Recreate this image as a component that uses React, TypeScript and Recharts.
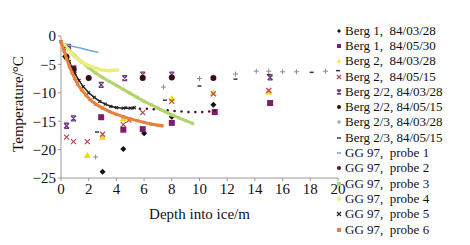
import React from 'react';
import { ScatterChart, Scatter, XAxis, YAxis } from 'recharts';

type P = { x: number; y: number };

// depth (m), temperature (°C)
const berg1Mar: P[] = [
  { x: 0.3, y: -3.6 }, { x: 3, y: -23.9 }, { x: 4.5, y: -19.9 }, { x: 6, y: -17.1 },
  { x: 8, y: -14.2 }, { x: 11, y: -12.1 },
];
const berg1May: P[] = [
  { x: 0.5, y: -1.9 }, { x: 0.9, y: -5.7 }, { x: 2.9, y: -14.3 }, { x: 4.5, y: -16.5 },
  { x: 5.9, y: -16.4 }, { x: 8, y: -15.3 }, { x: 11.1, y: -13.4 }, { x: 15.1, y: -11.8 },
];
const berg2Mar: P[] = [
  { x: 1.9, y: -21 }, { x: 3, y: -17.8 }, { x: 4.5, y: -14.5 }, { x: 8, y: -11 },
  { x: 11, y: -10 }, { x: 15, y: -9.8 },
];
const berg2May: P[] = [
  { x: 0.4, y: -17.8 }, { x: 0.9, y: -18.6 }, { x: 1.9, y: -18.6 }, { x: 3, y: -17.3 },
  { x: 4.5, y: -15.6 }, { x: 4.9, y: -14.8 }, { x: 5.9, y: -13.5 }, { x: 8, y: -11.5 },
  { x: 11, y: -10.2 }, { x: 15, y: -9.6 },
];
const berg22Mar: P[] = [
  { x: 0.4, y: -15.8 }, { x: 0.9, y: -14.5 }, { x: 2.9, y: -8.6 }, { x: 4.6, y: -7.4 },
  { x: 5.9, y: -6.8 }, { x: 8, y: -6.8 }, { x: 15.1, y: -7.3 },
];
const berg22May: P[] = [
  { x: 0.4, y: -3.7 }, { x: 0.9, y: -5.9 }, { x: 2, y: -7.4 }, { x: 5.9, y: -7.4 },
  { x: 8, y: -7.3 }, { x: 11, y: -7.4 },
];
const berg23Mar: P[] = [
  { x: 2.5, y: -21.3 }, { x: 7.4, y: -9 }, { x: 10, y: -7.5 }, { x: 12.6, y: -6.7 },
  { x: 14.1, y: -6.2 }, { x: 15, y: -6.2 }, { x: 16, y: -6.3 }, { x: 17, y: -6.3 },
  { x: 19.1, y: -6.2 },
];
const berg23May: P[] = [
  { x: 2.6, y: -16.9 }, { x: 7.5, y: -11.3 }, { x: 10, y: -8.8 }, { x: 12.6, y: -7.6 },
  { x: 15, y: -6.8 }, { x: 18.1, y: -6.4 }, { x: 20, y: -6.1 },
];
const probe1: P[] = [
  { x: 0.3, y: -1.4 }, { x: 0.8, y: -1.8 }, { x: 1.4, y: -2.1 }, { x: 2, y: -2.5 }, { x: 2.7, y: -2.9 },
];
const probe2: P[] = [
  { x: 4.7, y: -12.6 }, { x: 5.2, y: -12.7 }, { x: 5.7, y: -12.8 }, { x: 6.2, y: -12.8 },
  { x: 6.7, y: -12.9 }, { x: 7.2, y: -13 }, { x: 7.7, y: -13.1 }, { x: 8.2, y: -13.2 },
  { x: 8.7, y: -13.3 }, { x: 9.2, y: -13.4 }, { x: 9.7, y: -13.4 }, { x: 10.2, y: -13.4 },
  { x: 10.7, y: -13.3 }, { x: 11.1, y: -13.1 },
];
const probe3: P[] = [
  { x: 0, y: -1 }, { x: 0.5, y: -2.3 }, { x: 1, y: -3.5 }, { x: 1.5, y: -4.6 }, { x: 2, y: -5.6 },
  { x: 2.5, y: -6.5 }, { x: 3, y: -7.3 }, { x: 3.5, y: -8 }, { x: 4, y: -8.7 }, { x: 4.5, y: -9.4 },
  { x: 5, y: -10.1 }, { x: 5.5, y: -10.8 }, { x: 6, y: -11.5 }, { x: 6.5, y: -12.1 }, { x: 7, y: -12.7 },
  { x: 7.5, y: -13.3 }, { x: 8, y: -13.9 }, { x: 8.5, y: -14.4 }, { x: 9, y: -14.9 }, { x: 9.5, y: -15.4 },
];
const probe4: P[] = [
  { x: 0, y: -1 }, { x: 0.3, y: -1.8 }, { x: 0.6, y: -2.6 }, { x: 0.9, y: -3.5 }, { x: 1.3, y: -4.3 },
  { x: 1.7, y: -4.9 }, { x: 2.2, y: -5.4 }, { x: 2.8, y: -5.9 }, { x: 3.4, y: -6.1 }, { x: 4.2, y: -6 },
];
const probe5: P[] = [
  { x: 0, y: -1 }, { x: 0.2, y: -2.2 }, { x: 0.4, y: -3.4 }, { x: 0.6, y: -4.5 }, { x: 0.8, y: -5.6 },
  { x: 1, y: -6.6 }, { x: 1.3, y: -7.8 }, { x: 1.6, y: -8.9 }, { x: 2, y: -10 }, { x: 2.4, y: -10.8 },
  { x: 2.8, y: -11.5 }, { x: 3.2, y: -12 }, { x: 3.6, y: -12.4 }, { x: 4, y: -12.6 }, { x: 4.5, y: -12.7 },
  { x: 5, y: -12.7 }, { x: 5.3, y: -12.6 },
];
const probe6: P[] = [
  { x: 0, y: -1 }, { x: 0.2, y: -2.5 }, { x: 0.4, y: -4 }, { x: 0.6, y: -5.3 }, { x: 0.8, y: -6.5 },
  { x: 1, y: -7.5 }, { x: 1.2, y: -8.5 }, { x: 1.5, y: -9.5 }, { x: 1.8, y: -10.4 }, { x: 2.1, y: -11.2 },
  { x: 2.5, y: -12 }, { x: 3, y: -12.7 }, { x: 3.5, y: -13.3 }, { x: 4, y: -13.8 }, { x: 4.5, y: -14.2 },
  { x: 5, y: -14.6 }, { x: 5.5, y: -14.9 }, { x: 6, y: -15.2 }, { x: 6.5, y: -15.5 }, { x: 7, y: -15.7 },
  { x: 7.3, y: -15.8 },
];

const xTicks = [0, 2, 4, 6, 8, 10, 12, 14, 16, 18, 20];
const yTicks = [0, -5, -10, -15, -20, -25];

type Kind = 'diamond' | 'square' | 'triangle' | 'x' | 'asterisk' | 'circle' | 'plus' | 'dash' | 'dot' | 'none';

const mark = (kind: Kind, c: string, cx: number, cy: number, s: number) => {
  switch (kind) {
    case 'diamond':
      return <path d={`M${cx},${cy - s}L${cx + s},${cy}L${cx},${cy + s}L${cx - s},${cy}Z`} fill={c} />;
    case 'square':
      return <rect x={cx - s} y={cy - s} width={s * 2} height={s * 2} fill={c} />;
    case 'triangle':
      return <path d={`M${cx},${cy - s}L${cx + s},${cy + s * 0.8}L${cx - s},${cy + s * 0.8}Z`} fill={c} />;
    case 'x':
      return <path d={`M${cx - s},${cy - s}L${cx + s},${cy + s}M${cx + s},${cy - s}L${cx - s},${cy + s}`} stroke={c} strokeWidth={1.2} />;
    case 'asterisk':
      return (
        <path
          d={`M${cx - s},${cy - s}L${cx + s},${cy + s}M${cx + s},${cy - s}L${cx - s},${cy + s}M${cx - s},${cy - s}L${cx + s},${cy - s}M${cx - s},${cy + s}L${cx + s},${cy + s}`}
          stroke={c} strokeWidth={1.3} fill="none"
        />
      );
    case 'circle':
      return <circle cx={cx} cy={cy} r={s} fill={c} />;
    case 'plus':
      return <path d={`M${cx - s},${cy}L${cx + s},${cy}M${cx},${cy - s}L${cx},${cy + s}`} stroke={c} strokeWidth={1} />;
    case 'dash':
      return <path d={`M${cx - s},${cy}L${cx + s},${cy}`} stroke={c} strokeWidth={1.5} />;
    case 'dot':
      return <circle cx={cx} cy={cy} r={s} fill={c} />;
    default:
      return <g />;
  }
};

type Series = {
  name: string; data: P[]; color: string; kind: Kind; size: number;
  line?: number; legendKind?: Kind;
};

const SERIES: Series[] = [
  { name: 'Berg 1,  84/03/28', data: berg1Mar, color: '#111111', kind: 'diamond', size: 3 },
  { name: 'Berg 1,  84/05/30', data: berg1May, color: '#7b1f6a', kind: 'square', size: 3 },
  { name: 'Berg 2,  84/03/28', data: berg2Mar, color: '#efe000', kind: 'triangle', size: 3.5 },
  { name: 'Berg 2,  84/05/15', data: berg2May, color: '#c2405a', kind: 'x', size: 2.5 },
  { name: 'Berg 2/2, 84/03/28', data: berg22Mar, color: '#6a3a7c', kind: 'asterisk', size: 2.5 },
  { name: 'Berg 2/2, 84/05/15', data: berg22May, color: '#3a0a16', kind: 'circle', size: 3 },
  { name: 'Berg 2/3, 84/03/28', data: berg23Mar, color: '#8a8aa0', kind: 'plus', size: 2.5 },
  { name: 'Berg 2/3, 84/05/15', data: berg23May, color: '#353545', kind: 'dash', size: 2 },
  { name: 'GG 97,  probe 1', data: probe1, color: '#6fa8dc', kind: 'none', size: 2, line: 1.5, legendKind: 'dash' },
  { name: 'GG 97,  probe 2', data: probe2, color: '#5a1030', kind: 'dot', size: 1.3 },
  { name: 'GG 97,  probe 3', data: probe3, color: '#b4d36a', kind: 'square', size: 1.6, line: 3 },
  { name: 'GG 97,  probe 4', data: probe4, color: '#ecec80', kind: 'none', size: 2, line: 3.5, legendKind: 'dot' },
  { name: 'GG 97,  probe 5', data: probe5, color: '#222222', kind: 'x', size: 1.5, line: 1.5 },
  { name: 'GG 97,  probe 6', data: probe6, color: '#e8803c', kind: 'square', size: 1.6, line: 3 },
];

const FONT = '"Liberation Serif", "Times New Roman", serif';
const minus = (v: number) => (v < 0 ? `\u2212${Math.abs(v)}` : `${v}`);

const YLabel = () => (
  <text x={18} y={104} transform="rotate(-90 18 104)" textAnchor="middle" dominantBaseline="central"
    fontFamily={FONT} fontSize={15} fill="#111">
    Temperature/°C
  </text>
);

const LegendBox = () => (
  <div style={{ position: 'absolute', left: 334, top: 23, fontFamily: FONT, fontSize: 13, color: '#111' }}>
    {SERIES.map((s) => (
      <div key={s.name} style={{ height: 15.3, display: 'flex', alignItems: 'center', whiteSpace: 'pre' }}>
        <svg width={10} height={10} style={{ marginRight: 1 }}>
          {mark(s.legendKind ?? s.kind, s.color, 5, 5, 2)}
        </svg>
        {s.name}
      </div>
    ))}
  </div>
);

export default function App() {
  return (
    <div style={{ position: 'fixed', left: 0, top: 0, width: 470, height: 245, background: '#fff' }}>
      <ScatterChart width={470} height={245} margin={{ top: 36, right: 132, bottom: 22, left: 0 }}>
        <XAxis
          type="number" dataKey="x" domain={[0, 20]} ticks={xTicks} interval={0}
          stroke="#999" tickSize={3} height={45}
          tick={{ fontFamily: FONT, fontSize: 15, fill: '#111' }}
          label={{ value: 'Depth into ice/m', position: 'insideBottom', offset: 4, fontFamily: FONT, fontSize: 15, fill: '#111' }}
        />
        <YAxis
          type="number" dataKey="y" domain={[-25, 0]} ticks={yTicks} interval={0}
          stroke="#999" tickSize={3} width={61} tickFormatter={minus}
          tick={{ fontFamily: FONT, fontSize: 15, fill: '#111' }}
          label={() => <YLabel />}
        />
        {SERIES.map((s) => (
          <Scatter
            key={s.name}
            name={s.name}
            data={s.data}
            isAnimationActive={false}
            line={s.line ? { stroke: s.color, strokeWidth: s.line } : false}
            lineType="joint"
            shape={(p: any) => mark(s.kind, s.color, p.cx, p.cy, s.size)}
          />
        ))}
      </ScatterChart>
      <LegendBox />
    </div>
  );
}
